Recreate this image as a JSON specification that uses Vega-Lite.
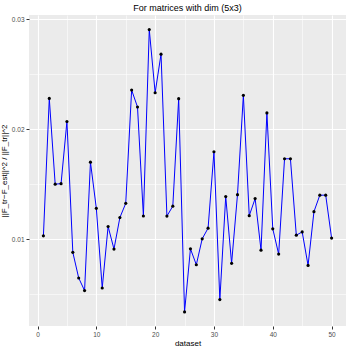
{
  "$schema": "https://vega.github.io/schema/vega-lite/v6.json",
  "autosize": {"type": "none"},
  "width": 317,
  "height": 311,
  "padding": {"left": 29, "top": 15, "right": 4, "bottom": 24},
  "background": "white",
  "title": {"text": "For matrices with dim (5x3)", "fontSize": 9, "font": "Liberation Sans", "fontWeight": "normal", "color": "black", "offset": 2, "anchor": "middle"},
  "config": {
    "view": {"fill": "#EBEBEB", "stroke": null},
    "axis": {"domain": false, "gridColor": "white", "tickColor": "#333333", "tickSize": 3, "labelColor": "#4D4D4D", "labelFontSize": 6.5, "labelFont": "Liberation Sans", "titleFont": "Liberation Sans", "titleFontSize": 8, "titleFontWeight": "normal", "titleColor": "black", "labelPadding": 2}
  },
  "data": {"values": [
    {"dataset": 1, "err": 0.0103}, {"dataset": 2, "err": 0.0228}, {"dataset": 3, "err": 0.0150}, {"dataset": 4, "err": 0.01505},
    {"dataset": 5, "err": 0.0207}, {"dataset": 6, "err": 0.0088}, {"dataset": 7, "err": 0.00647}, {"dataset": 8, "err": 0.00532},
    {"dataset": 9, "err": 0.0170}, {"dataset": 10, "err": 0.0128}, {"dataset": 11, "err": 0.00556}, {"dataset": 12, "err": 0.01115},
    {"dataset": 13, "err": 0.0091}, {"dataset": 14, "err": 0.01196}, {"dataset": 15, "err": 0.01326}, {"dataset": 16, "err": 0.02356},
    {"dataset": 17, "err": 0.02202}, {"dataset": 18, "err": 0.01211}, {"dataset": 19, "err": 0.02906}, {"dataset": 20, "err": 0.02332},
    {"dataset": 21, "err": 0.02683}, {"dataset": 22, "err": 0.0121}, {"dataset": 23, "err": 0.0130}, {"dataset": 24, "err": 0.02278},
    {"dataset": 25, "err": 0.00338}, {"dataset": 26, "err": 0.00912}, {"dataset": 27, "err": 0.00767}, {"dataset": 28, "err": 0.01003},
    {"dataset": 29, "err": 0.0110}, {"dataset": 30, "err": 0.01795}, {"dataset": 31, "err": 0.0045}, {"dataset": 32, "err": 0.01387},
    {"dataset": 33, "err": 0.0078}, {"dataset": 34, "err": 0.01405}, {"dataset": 35, "err": 0.02308}, {"dataset": 36, "err": 0.01214},
    {"dataset": 37, "err": 0.01369}, {"dataset": 38, "err": 0.0090}, {"dataset": 39, "err": 0.02148}, {"dataset": 40, "err": 0.01094},
    {"dataset": 41, "err": 0.00864}, {"dataset": 42, "err": 0.01731}, {"dataset": 43, "err": 0.01731}, {"dataset": 44, "err": 0.01036},
    {"dataset": 45, "err": 0.01066}, {"dataset": 46, "err": 0.00761}, {"dataset": 47, "err": 0.0125}, {"dataset": 48, "err": 0.0140},
    {"dataset": 49, "err": 0.0140}, {"dataset": 50, "err": 0.0101}
  ]},
  "encoding": {
    "x": {"field": "dataset", "type": "quantitative",
      "scale": {"domain": [-1.45, 52.45], "nice": false, "zero": false},
      "axis": {"title": "dataset", "values": [0, 5, 10, 15, 20, 25, 30, 35, 40, 45, 50],
        "labelExpr": "datum.value % 10 === 0 ? datum.label : ''",
        "gridWidth": {"condition": {"test": "datum.value % 10 === 0", "value": 1.1}, "value": 0.55},
        "tickOpacity": {"condition": {"test": "datum.value % 10 === 0", "value": 1}, "value": 0},
        "titlePadding": 2}},
    "y": {"field": "err", "type": "quantitative",
      "scale": {"domain": [0.0021, 0.03039], "nice": false, "zero": false},
      "axis": {"title": "||F_tr−F_est||^2 / ||F_tr||^2", "values": [0.005, 0.01, 0.015, 0.02, 0.025, 0.03],
        "labelExpr": "round(datum.value*200) % 2 === 0 ? format(datum.value, '.2f') : ''",
        "gridWidth": {"condition": {"test": "round(datum.value*200) % 2 === 0", "value": 1.1}, "value": 0.55},
        "tickOpacity": {"condition": {"test": "round(datum.value*200) % 2 === 0", "value": 1}, "value": 0},
        "titlePadding": 3}}
  },
  "layer": [
    {"mark": {"type": "line", "color": "blue", "strokeWidth": 1}},
    {"mark": {"type": "point", "filled": true, "color": "black", "size": 10, "opacity": 1}}
  ]
}
